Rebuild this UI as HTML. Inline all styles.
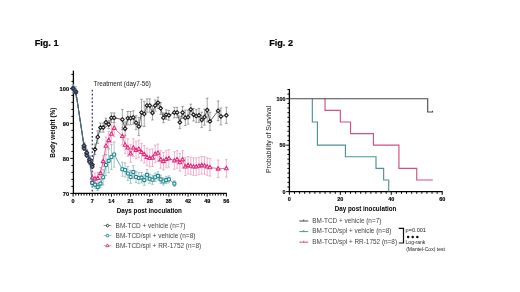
<!DOCTYPE html>
<html><head><meta charset="utf-8"><style>
html,body{margin:0;padding:0;background:#fff;}
body{width:520px;height:292px;overflow:hidden;}
svg{display:block;font-family:"Liberation Sans",sans-serif;}
</style></head><body>
<svg width="520" height="292" viewBox="0 0 520 292">
<defs><filter id="soft" x="0" y="0" width="100%" height="100%"><feGaussianBlur stdDeviation="0.3"/></filter></defs>
<rect width="520" height="292" fill="#fff"/>
<g filter="url(#soft)">
<text x="34.7" y="46.0" font-size="9.1" font-weight="bold" stroke="#000" stroke-width="0.2">Fig. 1</text>
<text x="269.2" y="46.1" font-size="9.1" font-weight="bold" stroke="#000" stroke-width="0.2">Fig. 2</text>
<path d="M70.2 193.4H73.4M71.4 186.4H73.4M71.4 179.4H73.4M71.4 172.4H73.4M71.4 165.4H73.4M70.2 158.4H73.4M71.4 151.4H73.4M71.4 144.4H73.4M71.4 137.4H73.4M71.4 130.4H73.4M70.2 123.4H73.4M71.4 116.4H73.4M71.4 109.4H73.4M71.4 102.4H73.4M71.4 95.4H73.4M70.2 88.4H73.4M71.4 81.4H73.4M71.4 74.4H73.4" stroke="#000" stroke-width="1.0" fill="none"/>
<path d="M73.4 70.6V194" stroke="#000" stroke-width="1.3" fill="none"/>
<text x="69.1" y="90.7" font-size="5.7" font-weight="bold" stroke="#000" stroke-width="0.15" text-anchor="end">100</text>
<text x="69.1" y="125.7" font-size="5.7" font-weight="bold" stroke="#000" stroke-width="0.15" text-anchor="end">90</text>
<text x="69.1" y="160.7" font-size="5.7" font-weight="bold" stroke="#000" stroke-width="0.15" text-anchor="end">80</text>
<text x="69.1" y="195.7" font-size="5.7" font-weight="bold" stroke="#000" stroke-width="0.15" text-anchor="end">70</text>
<path d="M73.1 193.4v3.2M75.84 193.4v2.2M78.57 193.4v2.2M81.31 193.4v2.2M84.05 193.4v2.2M86.78 193.4v2.2M89.52 193.4v2.2M92.26 193.4v3.2M95 193.4v2.2M97.73 193.4v2.2M100.47 193.4v2.2M103.21 193.4v2.2M105.94 193.4v2.2M108.68 193.4v2.2M111.42 193.4v3.2M114.16 193.4v2.2M116.89 193.4v2.2M119.63 193.4v2.2M122.37 193.4v2.2M125.1 193.4v2.2M127.84 193.4v2.2M130.58 193.4v3.2M133.31 193.4v2.2M136.05 193.4v2.2M138.79 193.4v2.2M141.52 193.4v2.2M144.26 193.4v2.2M147 193.4v2.2M149.74 193.4v3.2M152.47 193.4v2.2M155.21 193.4v2.2M157.95 193.4v2.2M160.68 193.4v2.2M163.42 193.4v2.2M166.16 193.4v2.2M168.89 193.4v3.2M171.63 193.4v2.2M174.37 193.4v2.2M177.11 193.4v2.2M179.84 193.4v2.2M182.58 193.4v2.2M185.32 193.4v2.2M188.05 193.4v3.2M190.79 193.4v2.2M193.53 193.4v2.2M196.26 193.4v2.2M199 193.4v2.2M201.74 193.4v2.2M204.48 193.4v2.2M207.21 193.4v3.2M209.95 193.4v2.2M212.69 193.4v2.2M215.42 193.4v2.2M218.16 193.4v2.2M220.9 193.4v2.2M223.63 193.4v2.2M226.37 193.4v3.2" stroke="#000" stroke-width="1.0" fill="none"/>
<path d="M72.75 193.4H226.87" stroke="#000" stroke-width="1.3" fill="none"/>
<text x="73.1" y="203.3" font-size="5.5" font-weight="bold" stroke="#000" stroke-width="0.15" text-anchor="middle">0</text>
<text x="92.26" y="203.3" font-size="5.5" font-weight="bold" stroke="#000" stroke-width="0.15" text-anchor="middle">7</text>
<text x="111.42" y="203.3" font-size="5.5" font-weight="bold" stroke="#000" stroke-width="0.15" text-anchor="middle">14</text>
<text x="130.58" y="203.3" font-size="5.5" font-weight="bold" stroke="#000" stroke-width="0.15" text-anchor="middle">21</text>
<text x="149.74" y="203.3" font-size="5.5" font-weight="bold" stroke="#000" stroke-width="0.15" text-anchor="middle">28</text>
<text x="168.89" y="203.3" font-size="5.5" font-weight="bold" stroke="#000" stroke-width="0.15" text-anchor="middle">35</text>
<text x="188.05" y="203.3" font-size="5.5" font-weight="bold" stroke="#000" stroke-width="0.15" text-anchor="middle">42</text>
<text x="207.21" y="203.3" font-size="5.5" font-weight="bold" stroke="#000" stroke-width="0.15" text-anchor="middle">49</text>
<text x="226.37" y="203.3" font-size="5.5" font-weight="bold" stroke="#000" stroke-width="0.15" text-anchor="middle">56</text>
<text x="149.4" y="212.6" font-size="6.27" font-weight="bold" text-anchor="middle">Days post inoculation</text>
<text transform="translate(54.5 132.6) rotate(-90)" font-size="6.45" font-weight="bold" text-anchor="middle">Body weight (%)</text>
<path d="M92.3 89.8V193.4" stroke="#38389a" stroke-width="1.3" stroke-dasharray="1.8 2.04" fill="none"/>
<text x="93.5" y="86.3" font-size="6.33" fill="#222">Treatment (day7-56)</text>
<path d="M73.1 84.9V91.9M71.8 84.9H74.4M71.8 91.9H74.4" stroke="#e899be" stroke-width="0.75" fill="none"/>
<path d="M75.84 88.4V95.4M74.54 88.4H77.14M74.54 95.4H77.14" stroke="#e899be" stroke-width="0.75" fill="none"/>
<path d="M84.05 142.65V149.65M82.75 142.65H85.35M82.75 149.65H85.35" stroke="#e899be" stroke-width="0.75" fill="none"/>
<path d="M86.78 149.3V156.3M85.48 149.3H88.08M85.48 156.3H88.08" stroke="#e899be" stroke-width="0.75" fill="none"/>
<path d="M89.52 155.6V164M88.22 155.6H90.82M88.22 164H90.82" stroke="#e899be" stroke-width="0.75" fill="none"/>
<path d="M92.26 172.05V183.25M90.96 172.05H93.56M90.96 183.25H93.56" stroke="#e899be" stroke-width="0.75" fill="none"/>
<path d="M95 173.1V184.3M93.7 173.1H96.3M93.7 184.3H96.3" stroke="#e899be" stroke-width="0.75" fill="none"/>
<path d="M97.73 172.4V183.6M96.43 172.4H99.03M96.43 183.6H99.03" stroke="#e899be" stroke-width="0.75" fill="none"/>
<path d="M100.47 167.5V178.7M99.17 167.5H101.77M99.17 178.7H101.77" stroke="#e899be" stroke-width="0.75" fill="none"/>
<path d="M103.21 155.6V166.8M101.91 155.6H104.51M101.91 166.8H104.51" stroke="#e899be" stroke-width="0.75" fill="none"/>
<path d="M105.94 137.05V154.55M104.64 137.05H107.24M104.64 154.55H107.24" stroke="#e899be" stroke-width="0.75" fill="none"/>
<path d="M108.68 131.45V148.95M107.38 131.45H109.98M107.38 148.95H109.98" stroke="#e899be" stroke-width="0.75" fill="none"/>
<path d="M111.42 125.15V142.65M110.12 125.15H112.72M110.12 142.65H112.72" stroke="#e899be" stroke-width="0.75" fill="none"/>
<path d="M114.16 119.2V136.7M112.86 119.2H115.45M112.86 136.7H115.45" stroke="#e899be" stroke-width="0.75" fill="none"/>
<path d="M122.37 127.25V144.75M121.07 127.25H123.67M121.07 144.75H123.67" stroke="#e899be" stroke-width="0.75" fill="none"/>
<path d="M125.1 136V153.5M123.8 136H126.4M123.8 153.5H126.4" stroke="#e899be" stroke-width="0.75" fill="none"/>
<path d="M127.84 138.8V156.3M126.54 138.8H129.14M126.54 156.3H129.14" stroke="#e899be" stroke-width="0.75" fill="none"/>
<path d="M130.58 144.75V162.25M129.28 144.75H131.88M129.28 162.25H131.88" stroke="#e899be" stroke-width="0.75" fill="none"/>
<path d="M133.31 138.8V156.3M132.01 138.8H134.61M132.01 156.3H134.61" stroke="#e899be" stroke-width="0.75" fill="none"/>
<path d="M136.05 141.25V158.75M134.75 141.25H137.35M134.75 158.75H137.35" stroke="#e899be" stroke-width="0.75" fill="none"/>
<path d="M138.79 140.2V157.7M137.49 140.2H140.09M137.49 157.7H140.09" stroke="#e899be" stroke-width="0.75" fill="none"/>
<path d="M141.52 143.35V160.85M140.22 143.35H142.82M140.22 160.85H142.82" stroke="#e899be" stroke-width="0.75" fill="none"/>
<path d="M144.26 145.45V162.95M142.96 145.45H145.56M142.96 162.95H145.56" stroke="#e899be" stroke-width="0.75" fill="none"/>
<path d="M147 148.25V165.75M145.7 148.25H148.3M145.7 165.75H148.3" stroke="#e899be" stroke-width="0.75" fill="none"/>
<path d="M149.74 149.3V166.8M148.44 149.3H151.04M148.44 166.8H151.04" stroke="#e899be" stroke-width="0.75" fill="none"/>
<path d="M152.47 148.95V166.45M151.17 148.95H153.77M151.17 166.45H153.77" stroke="#e899be" stroke-width="0.75" fill="none"/>
<path d="M155.21 145.1V162.6M153.91 145.1H156.51M153.91 162.6H156.51" stroke="#e899be" stroke-width="0.75" fill="none"/>
<path d="M157.95 144.05V161.55M156.65 144.05H159.25M156.65 161.55H159.25" stroke="#e899be" stroke-width="0.75" fill="none"/>
<path d="M160.68 150.7V168.2M159.38 150.7H161.98M159.38 168.2H161.98" stroke="#e899be" stroke-width="0.75" fill="none"/>
<path d="M163.42 152.45V169.95M162.12 152.45H164.72M162.12 169.95H164.72" stroke="#e899be" stroke-width="0.75" fill="none"/>
<path d="M166.16 150.35V167.85M164.86 150.35H167.46M164.86 167.85H167.46" stroke="#e899be" stroke-width="0.75" fill="none"/>
<path d="M168.89 149.65V167.15M167.59 149.65H170.19M167.59 167.15H170.19" stroke="#e899be" stroke-width="0.75" fill="none"/>
<path d="M174.37 151.75V169.25M173.07 151.75H175.67M173.07 169.25H175.67" stroke="#e899be" stroke-width="0.75" fill="none"/>
<path d="M177.11 150.7V168.2M175.81 150.7H178.41M175.81 168.2H178.41" stroke="#e899be" stroke-width="0.75" fill="none"/>
<path d="M179.84 153.5V171M178.54 153.5H181.14M178.54 171H181.14" stroke="#e899be" stroke-width="0.75" fill="none"/>
<path d="M182.58 150.7V168.2M181.28 150.7H183.88M181.28 168.2H183.88" stroke="#e899be" stroke-width="0.75" fill="none"/>
<path d="M185.32 157.88V175.38M184.02 157.88H186.62M184.02 175.38H186.62" stroke="#e899be" stroke-width="0.75" fill="none"/>
<path d="M188.05 156.48V173.98M186.75 156.48H189.35M186.75 173.98H189.35" stroke="#e899be" stroke-width="0.75" fill="none"/>
<path d="M190.79 157.18V174.68M189.49 157.18H192.09M189.49 174.68H192.09" stroke="#e899be" stroke-width="0.75" fill="none"/>
<path d="M193.53 157.88V175.38M192.23 157.88H194.83M192.23 175.38H194.83" stroke="#e899be" stroke-width="0.75" fill="none"/>
<path d="M196.26 157.88V175.38M194.96 157.88H197.56M194.96 175.38H197.56" stroke="#e899be" stroke-width="0.75" fill="none"/>
<path d="M199 157.18V174.68M197.7 157.18H200.3M197.7 174.68H200.3" stroke="#e899be" stroke-width="0.75" fill="none"/>
<path d="M201.74 156.48V173.98M200.44 156.48H203.04M200.44 173.98H203.04" stroke="#e899be" stroke-width="0.75" fill="none"/>
<path d="M204.48 156.82V174.32M203.18 156.82H205.78M203.18 174.32H205.78" stroke="#e899be" stroke-width="0.75" fill="none"/>
<path d="M207.21 157.88V175.38M205.91 157.88H208.51M205.91 175.38H208.51" stroke="#e899be" stroke-width="0.75" fill="none"/>
<path d="M209.95 158.57V176.07M208.65 158.57H211.25M208.65 176.07H211.25" stroke="#e899be" stroke-width="0.75" fill="none"/>
<path d="M218.16 159.98V177.48M216.86 159.98H219.46M216.86 177.48H219.46" stroke="#e899be" stroke-width="0.75" fill="none"/>
<path d="M226.37 159.62V177.12M225.07 159.62H227.67M225.07 177.12H227.67" stroke="#e899be" stroke-width="0.75" fill="none"/>
<path d="M73.1 84.2V92.6M71.8 84.2H74.4M71.8 92.6H74.4" stroke="#7aa9ab" stroke-width="0.65" fill="none"/>
<path d="M75.84 86.65V97.15M74.54 86.65H77.14M74.54 97.15H77.14" stroke="#7aa9ab" stroke-width="0.65" fill="none"/>
<path d="M84.05 143.35V150.35M82.75 143.35H85.35M82.75 150.35H85.35" stroke="#7aa9ab" stroke-width="0.65" fill="none"/>
<path d="M86.78 150V157M85.48 150H88.08M85.48 157H88.08" stroke="#7aa9ab" stroke-width="0.65" fill="none"/>
<path d="M89.52 156.3V164.7M88.22 156.3H90.82M88.22 164.7H90.82" stroke="#7aa9ab" stroke-width="0.65" fill="none"/>
<path d="M92.26 179.4V186.4M90.96 179.4H93.56M90.96 186.4H93.56" stroke="#7aa9ab" stroke-width="0.65" fill="none"/>
<path d="M95 181.15V188.15M93.7 181.15H96.3M93.7 188.15H96.3" stroke="#7aa9ab" stroke-width="0.65" fill="none"/>
<path d="M97.73 183.6V190.6M96.43 183.6H99.03M96.43 190.6H99.03" stroke="#7aa9ab" stroke-width="0.65" fill="none"/>
<path d="M100.47 179.4V187.8M99.17 179.4H101.77M99.17 187.8H101.77" stroke="#7aa9ab" stroke-width="0.65" fill="none"/>
<path d="M103.21 169.6V185M101.91 169.6H104.51M101.91 185H104.51" stroke="#7aa9ab" stroke-width="0.65" fill="none"/>
<path d="M105.94 154.55V175.55M104.64 154.55H107.24M104.64 175.55H107.24" stroke="#7aa9ab" stroke-width="0.65" fill="none"/>
<path d="M108.68 148.95V172.75M107.38 148.95H109.98M107.38 172.75H109.98" stroke="#7aa9ab" stroke-width="0.65" fill="none"/>
<path d="M111.42 144.4V169.6M110.12 144.4H112.72M110.12 169.6H112.72" stroke="#7aa9ab" stroke-width="0.65" fill="none"/>
<path d="M114.16 141.95V167.15M112.86 141.95H115.45M112.86 167.15H115.45" stroke="#7aa9ab" stroke-width="0.65" fill="none"/>
<path d="M122.37 162.25V176.25M121.07 162.25H123.67M121.07 176.25H123.67" stroke="#7aa9ab" stroke-width="0.65" fill="none"/>
<path d="M125.1 162.95V176.95M123.8 162.95H126.4M123.8 176.95H126.4" stroke="#7aa9ab" stroke-width="0.65" fill="none"/>
<path d="M127.84 166.45V180.45M126.54 166.45H129.14M126.54 180.45H129.14" stroke="#7aa9ab" stroke-width="0.65" fill="none"/>
<path d="M130.58 170.65V183.25M129.28 170.65H131.88M129.28 183.25H131.88" stroke="#7aa9ab" stroke-width="0.65" fill="none"/>
<path d="M133.31 165.75V178.35M132.01 165.75H134.61M132.01 178.35H134.61" stroke="#7aa9ab" stroke-width="0.65" fill="none"/>
<path d="M136.05 171.35V182.55M134.75 171.35H137.35M134.75 182.55H137.35" stroke="#7aa9ab" stroke-width="0.65" fill="none"/>
<path d="M138.79 172.4V183.6M137.49 172.4H140.09M137.49 183.6H140.09" stroke="#7aa9ab" stroke-width="0.65" fill="none"/>
<path d="M141.52 172.4V182.9M140.22 172.4H142.82M140.22 182.9H142.82" stroke="#7aa9ab" stroke-width="0.65" fill="none"/>
<path d="M144.26 174.85V185.35M142.96 174.85H145.56M142.96 185.35H145.56" stroke="#7aa9ab" stroke-width="0.65" fill="none"/>
<path d="M147 169.6V180.1M145.7 169.6H148.3M145.7 180.1H148.3" stroke="#7aa9ab" stroke-width="0.65" fill="none"/>
<path d="M149.74 174.15V183.25M148.44 174.15H151.04M148.44 183.25H151.04" stroke="#7aa9ab" stroke-width="0.65" fill="none"/>
<path d="M152.47 175.2V184.3M151.17 175.2H153.77M151.17 184.3H153.77" stroke="#7aa9ab" stroke-width="0.65" fill="none"/>
<path d="M155.21 173.1V181.5M153.91 173.1H156.51M153.91 181.5H156.51" stroke="#7aa9ab" stroke-width="0.65" fill="none"/>
<path d="M157.95 171.7V180.1M156.65 171.7H159.25M156.65 180.1H159.25" stroke="#7aa9ab" stroke-width="0.65" fill="none"/>
<path d="M160.68 175.2V183.6M159.38 175.2H161.98M159.38 183.6H161.98" stroke="#7aa9ab" stroke-width="0.65" fill="none"/>
<path d="M163.42 178V185M162.12 178H164.72M162.12 185H164.72" stroke="#7aa9ab" stroke-width="0.65" fill="none"/>
<path d="M166.16 176.6V183.6M164.86 176.6H167.46M164.86 183.6H167.46" stroke="#7aa9ab" stroke-width="0.65" fill="none"/>
<path d="M168.89 175.9V182.9M167.59 175.9H170.19M167.59 182.9H170.19" stroke="#7aa9ab" stroke-width="0.65" fill="none"/>
<path d="M174.37 180.8V186.4M173.07 180.8H175.67M173.07 186.4H175.67" stroke="#7aa9ab" stroke-width="0.65" fill="none"/>
<path d="M73.1 86.65V90.15M71.8 86.65H74.4M71.8 90.15H74.4" stroke="#6a6a6a" stroke-width="0.6" fill="none"/>
<path d="M75.84 89.8V94M74.54 89.8H77.14M74.54 94H77.14" stroke="#6a6a6a" stroke-width="0.6" fill="none"/>
<path d="M84.05 143V148.6M82.75 143H85.35M82.75 148.6H85.35" stroke="#6a6a6a" stroke-width="0.6" fill="none"/>
<path d="M86.78 150V155.6M85.48 150H88.08M85.48 155.6H88.08" stroke="#6a6a6a" stroke-width="0.6" fill="none"/>
<path d="M89.52 156.3V162.6M88.22 156.3H90.82M88.22 162.6H90.82" stroke="#6a6a6a" stroke-width="0.6" fill="none"/>
<path d="M92.26 161.2V168.2M90.96 161.2H93.56M90.96 168.2H93.56" stroke="#6a6a6a" stroke-width="0.6" fill="none"/>
<path d="M95 144.05V154.55M93.7 144.05H96.3M93.7 154.55H96.3" stroke="#6a6a6a" stroke-width="0.6" fill="none"/>
<path d="M97.73 130.75V143.35M96.43 130.75H99.03M96.43 143.35H99.03" stroke="#6a6a6a" stroke-width="0.6" fill="none"/>
<path d="M100.47 123.05V132.15M99.17 123.05H101.77M99.17 132.15H101.77" stroke="#6a6a6a" stroke-width="0.6" fill="none"/>
<path d="M103.21 123.05V132.15M101.91 123.05H104.51M101.91 132.15H104.51" stroke="#6a6a6a" stroke-width="0.6" fill="none"/>
<path d="M105.94 118.15V126.55M104.64 118.15H107.24M104.64 126.55H107.24" stroke="#6a6a6a" stroke-width="0.6" fill="none"/>
<path d="M108.68 120.25V128.65M107.38 120.25H109.98M107.38 128.65H109.98" stroke="#6a6a6a" stroke-width="0.6" fill="none"/>
<path d="M111.42 112.9V122.7M110.12 112.9H112.72M110.12 122.7H112.72" stroke="#6a6a6a" stroke-width="0.6" fill="none"/>
<path d="M114.16 112.9V122.7M112.86 112.9H115.45M112.86 122.7H115.45" stroke="#6a6a6a" stroke-width="0.6" fill="none"/>
<path d="M122.37 109.4V129.7M121.07 109.4H123.67M121.07 129.7H123.67" stroke="#6a6a6a" stroke-width="0.6" fill="none"/>
<path d="M125.1 122V135.3M123.8 122H126.4M123.8 135.3H126.4" stroke="#6a6a6a" stroke-width="0.6" fill="none"/>
<path d="M127.84 111.5V124.8M126.54 111.5H129.14M126.54 124.8H129.14" stroke="#6a6a6a" stroke-width="0.6" fill="none"/>
<path d="M130.58 111.5V124.8M129.28 111.5H131.88M129.28 124.8H131.88" stroke="#6a6a6a" stroke-width="0.6" fill="none"/>
<path d="M133.31 110.8V124.1M132.01 110.8H134.61M132.01 124.1H134.61" stroke="#6a6a6a" stroke-width="0.6" fill="none"/>
<path d="M136.05 115.7V129.7M134.75 115.7H137.35M134.75 129.7H137.35" stroke="#6a6a6a" stroke-width="0.6" fill="none"/>
<path d="M138.79 117.45V135.65M137.49 117.45H140.09M137.49 135.65H140.09" stroke="#6a6a6a" stroke-width="0.6" fill="none"/>
<path d="M141.52 99.25V125.85M140.22 99.25H142.82M140.22 125.85H142.82" stroke="#6a6a6a" stroke-width="0.6" fill="none"/>
<path d="M144.26 101.35V126.55M142.96 101.35H145.56M142.96 126.55H145.56" stroke="#6a6a6a" stroke-width="0.6" fill="none"/>
<path d="M147 98.9V112.2M145.7 98.9H148.3M145.7 112.2H148.3" stroke="#6a6a6a" stroke-width="0.6" fill="none"/>
<path d="M149.74 98.9V112.2M148.44 98.9H151.04M148.44 112.2H151.04" stroke="#6a6a6a" stroke-width="0.6" fill="none"/>
<path d="M152.47 105.9V119.9M151.17 105.9H153.77M151.17 119.9H153.77" stroke="#6a6a6a" stroke-width="0.6" fill="none"/>
<path d="M155.21 99.95V111.15M153.91 99.95H156.51M153.91 111.15H156.51" stroke="#6a6a6a" stroke-width="0.6" fill="none"/>
<path d="M157.95 97.15V108.35M156.65 97.15H159.25M156.65 108.35H159.25" stroke="#6a6a6a" stroke-width="0.6" fill="none"/>
<path d="M160.68 102.4V114.3M159.38 102.4H161.98M159.38 114.3H161.98" stroke="#6a6a6a" stroke-width="0.6" fill="none"/>
<path d="M163.42 112.9V122.7M162.12 112.9H164.72M162.12 122.7H164.72" stroke="#6a6a6a" stroke-width="0.6" fill="none"/>
<path d="M166.16 109.75V119.55M164.86 109.75H167.46M164.86 119.55H167.46" stroke="#6a6a6a" stroke-width="0.6" fill="none"/>
<path d="M168.89 110.45V120.25M167.59 110.45H170.19M167.59 120.25H170.19" stroke="#6a6a6a" stroke-width="0.6" fill="none"/>
<path d="M174.37 107.3V117.8M173.07 107.3H175.67M173.07 117.8H175.67" stroke="#6a6a6a" stroke-width="0.6" fill="none"/>
<path d="M177.11 107.3V117.8M175.81 107.3H178.41M175.81 117.8H178.41" stroke="#6a6a6a" stroke-width="0.6" fill="none"/>
<path d="M179.84 116.05V128.65M178.54 116.05H181.14M178.54 128.65H181.14" stroke="#6a6a6a" stroke-width="0.6" fill="none"/>
<path d="M182.58 106.6V118.5M181.28 106.6H183.88M181.28 118.5H183.88" stroke="#6a6a6a" stroke-width="0.6" fill="none"/>
<path d="M185.32 110.1V125.5M184.02 110.1H186.62M184.02 125.5H186.62" stroke="#6a6a6a" stroke-width="0.6" fill="none"/>
<path d="M188.05 110.1V124.1M186.75 110.1H189.35M186.75 124.1H189.35" stroke="#6a6a6a" stroke-width="0.6" fill="none"/>
<path d="M190.79 104.15V114.65M189.49 104.15H192.09M189.49 114.65H192.09" stroke="#6a6a6a" stroke-width="0.6" fill="none"/>
<path d="M193.53 108.35V120.95M192.23 108.35H194.83M192.23 120.95H194.83" stroke="#6a6a6a" stroke-width="0.6" fill="none"/>
<path d="M196.26 109.75V122.35M194.96 109.75H197.56M194.96 122.35H197.56" stroke="#6a6a6a" stroke-width="0.6" fill="none"/>
<path d="M199 108.35V122.35M197.7 108.35H200.3M197.7 122.35H200.3" stroke="#6a6a6a" stroke-width="0.6" fill="none"/>
<path d="M201.74 112.2V127.6M200.44 112.2H203.04M200.44 127.6H203.04" stroke="#6a6a6a" stroke-width="0.6" fill="none"/>
<path d="M204.48 109.05V125.15M203.18 109.05H205.78M203.18 125.15H205.78" stroke="#6a6a6a" stroke-width="0.6" fill="none"/>
<path d="M207.21 98.2V122M205.91 98.2H208.51M205.91 122H208.51" stroke="#6a6a6a" stroke-width="0.6" fill="none"/>
<path d="M209.95 112.2V130.4M208.65 112.2H211.25M208.65 130.4H211.25" stroke="#6a6a6a" stroke-width="0.6" fill="none"/>
<path d="M218.16 101V120.6M216.86 101H219.46M216.86 120.6H219.46" stroke="#6a6a6a" stroke-width="0.6" fill="none"/>
<path d="M220.9 108V124.8M219.6 108H222.2M219.6 124.8H222.2" stroke="#6a6a6a" stroke-width="0.6" fill="none"/>
<path d="M226.37 107.3V123.4M225.07 107.3H227.67M225.07 123.4H227.67" stroke="#6a6a6a" stroke-width="0.6" fill="none"/>
<polyline points="73.1,88.4 75.84,91.9 84.05,146.15 86.78,152.8 89.52,159.8 92.26,177.65 95,178.7 97.73,178 100.47,173.1 103.21,161.2 105.94,145.8 108.68,140.2 111.42,133.9 114.16,127.95 122.37,136 125.1,144.75 127.84,147.55 130.58,153.5 133.31,147.55 136.05,150 138.79,148.95 141.52,152.1 144.26,154.2 147,157 149.74,158.05 152.47,157.7 155.21,153.85 157.95,152.8 160.68,159.45 163.42,161.2 166.16,159.1 168.89,158.4 174.37,160.5 177.11,159.45 179.84,162.25 182.58,159.45 185.32,166.62 188.05,165.23 190.79,165.93 193.53,166.62 196.26,166.62 199,165.93 201.74,165.23 204.48,165.57 207.21,166.62 209.95,167.32 218.16,168.73 226.37,168.38" stroke="#de2f7e" stroke-width="0.7" fill="none"/>
<path d="M73.1 86.3L75.1 89.8L71.1 89.8Z" fill="#fbd3e4" stroke="#de2f7e" stroke-width="1.05" stroke-linejoin="round"/>
<path d="M75.84 89.8L77.84 93.3L73.84 93.3Z" fill="#fbd3e4" stroke="#de2f7e" stroke-width="1.05" stroke-linejoin="round"/>
<path d="M84.05 144.05L86.05 147.55L82.05 147.55Z" fill="#fbd3e4" stroke="#de2f7e" stroke-width="1.05" stroke-linejoin="round"/>
<path d="M86.78 150.7L88.78 154.2L84.78 154.2Z" fill="#fbd3e4" stroke="#de2f7e" stroke-width="1.05" stroke-linejoin="round"/>
<path d="M89.52 157.7L91.52 161.2L87.52 161.2Z" fill="#fbd3e4" stroke="#de2f7e" stroke-width="1.05" stroke-linejoin="round"/>
<path d="M92.26 175.55L94.26 179.05L90.26 179.05Z" fill="#fbd3e4" stroke="#de2f7e" stroke-width="1.05" stroke-linejoin="round"/>
<path d="M95 176.6L97 180.1L93 180.1Z" fill="#fbd3e4" stroke="#de2f7e" stroke-width="1.05" stroke-linejoin="round"/>
<path d="M97.73 175.9L99.73 179.4L95.73 179.4Z" fill="#fbd3e4" stroke="#de2f7e" stroke-width="1.05" stroke-linejoin="round"/>
<path d="M100.47 171L102.47 174.5L98.47 174.5Z" fill="#fbd3e4" stroke="#de2f7e" stroke-width="1.05" stroke-linejoin="round"/>
<path d="M103.21 159.1L105.21 162.6L101.21 162.6Z" fill="#fbd3e4" stroke="#de2f7e" stroke-width="1.05" stroke-linejoin="round"/>
<path d="M105.94 143.7L107.94 147.2L103.94 147.2Z" fill="#fbd3e4" stroke="#de2f7e" stroke-width="1.05" stroke-linejoin="round"/>
<path d="M108.68 138.1L110.68 141.6L106.68 141.6Z" fill="#fbd3e4" stroke="#de2f7e" stroke-width="1.05" stroke-linejoin="round"/>
<path d="M111.42 131.8L113.42 135.3L109.42 135.3Z" fill="#fbd3e4" stroke="#de2f7e" stroke-width="1.05" stroke-linejoin="round"/>
<path d="M114.16 125.85L116.16 129.35L112.16 129.35Z" fill="#fbd3e4" stroke="#de2f7e" stroke-width="1.05" stroke-linejoin="round"/>
<path d="M122.37 133.9L124.37 137.4L120.37 137.4Z" fill="#fbd3e4" stroke="#de2f7e" stroke-width="1.05" stroke-linejoin="round"/>
<path d="M125.1 142.65L127.1 146.15L123.1 146.15Z" fill="#fbd3e4" stroke="#de2f7e" stroke-width="1.05" stroke-linejoin="round"/>
<path d="M127.84 145.45L129.84 148.95L125.84 148.95Z" fill="#fbd3e4" stroke="#de2f7e" stroke-width="1.05" stroke-linejoin="round"/>
<path d="M130.58 151.4L132.58 154.9L128.58 154.9Z" fill="#fbd3e4" stroke="#de2f7e" stroke-width="1.05" stroke-linejoin="round"/>
<path d="M133.31 145.45L135.31 148.95L131.31 148.95Z" fill="#fbd3e4" stroke="#de2f7e" stroke-width="1.05" stroke-linejoin="round"/>
<path d="M136.05 147.9L138.05 151.4L134.05 151.4Z" fill="#fbd3e4" stroke="#de2f7e" stroke-width="1.05" stroke-linejoin="round"/>
<path d="M138.79 146.85L140.79 150.35L136.79 150.35Z" fill="#fbd3e4" stroke="#de2f7e" stroke-width="1.05" stroke-linejoin="round"/>
<path d="M141.52 150L143.52 153.5L139.52 153.5Z" fill="#fbd3e4" stroke="#de2f7e" stroke-width="1.05" stroke-linejoin="round"/>
<path d="M144.26 152.1L146.26 155.6L142.26 155.6Z" fill="#fbd3e4" stroke="#de2f7e" stroke-width="1.05" stroke-linejoin="round"/>
<path d="M147 154.9L149 158.4L145 158.4Z" fill="#fbd3e4" stroke="#de2f7e" stroke-width="1.05" stroke-linejoin="round"/>
<path d="M149.74 155.95L151.74 159.45L147.74 159.45Z" fill="#fbd3e4" stroke="#de2f7e" stroke-width="1.05" stroke-linejoin="round"/>
<path d="M152.47 155.6L154.47 159.1L150.47 159.1Z" fill="#fbd3e4" stroke="#de2f7e" stroke-width="1.05" stroke-linejoin="round"/>
<path d="M155.21 151.75L157.21 155.25L153.21 155.25Z" fill="#fbd3e4" stroke="#de2f7e" stroke-width="1.05" stroke-linejoin="round"/>
<path d="M157.95 150.7L159.95 154.2L155.95 154.2Z" fill="#fbd3e4" stroke="#de2f7e" stroke-width="1.05" stroke-linejoin="round"/>
<path d="M160.68 157.35L162.68 160.85L158.68 160.85Z" fill="#fbd3e4" stroke="#de2f7e" stroke-width="1.05" stroke-linejoin="round"/>
<path d="M163.42 159.1L165.42 162.6L161.42 162.6Z" fill="#fbd3e4" stroke="#de2f7e" stroke-width="1.05" stroke-linejoin="round"/>
<path d="M166.16 157L168.16 160.5L164.16 160.5Z" fill="#fbd3e4" stroke="#de2f7e" stroke-width="1.05" stroke-linejoin="round"/>
<path d="M168.89 156.3L170.89 159.8L166.89 159.8Z" fill="#fbd3e4" stroke="#de2f7e" stroke-width="1.05" stroke-linejoin="round"/>
<path d="M174.37 158.4L176.37 161.9L172.37 161.9Z" fill="#fbd3e4" stroke="#de2f7e" stroke-width="1.05" stroke-linejoin="round"/>
<path d="M177.11 157.35L179.11 160.85L175.11 160.85Z" fill="#fbd3e4" stroke="#de2f7e" stroke-width="1.05" stroke-linejoin="round"/>
<path d="M179.84 160.15L181.84 163.65L177.84 163.65Z" fill="#fbd3e4" stroke="#de2f7e" stroke-width="1.05" stroke-linejoin="round"/>
<path d="M182.58 157.35L184.58 160.85L180.58 160.85Z" fill="#fbd3e4" stroke="#de2f7e" stroke-width="1.05" stroke-linejoin="round"/>
<path d="M185.32 164.53L187.32 168.03L183.32 168.03Z" fill="#fbd3e4" stroke="#de2f7e" stroke-width="1.05" stroke-linejoin="round"/>
<path d="M188.05 163.13L190.05 166.63L186.05 166.63Z" fill="#fbd3e4" stroke="#de2f7e" stroke-width="1.05" stroke-linejoin="round"/>
<path d="M190.79 163.83L192.79 167.33L188.79 167.33Z" fill="#fbd3e4" stroke="#de2f7e" stroke-width="1.05" stroke-linejoin="round"/>
<path d="M193.53 164.53L195.53 168.03L191.53 168.03Z" fill="#fbd3e4" stroke="#de2f7e" stroke-width="1.05" stroke-linejoin="round"/>
<path d="M196.26 164.53L198.26 168.03L194.26 168.03Z" fill="#fbd3e4" stroke="#de2f7e" stroke-width="1.05" stroke-linejoin="round"/>
<path d="M199 163.83L201 167.33L197 167.33Z" fill="#fbd3e4" stroke="#de2f7e" stroke-width="1.05" stroke-linejoin="round"/>
<path d="M201.74 163.13L203.74 166.63L199.74 166.63Z" fill="#fbd3e4" stroke="#de2f7e" stroke-width="1.05" stroke-linejoin="round"/>
<path d="M204.48 163.47L206.48 166.97L202.48 166.97Z" fill="#fbd3e4" stroke="#de2f7e" stroke-width="1.05" stroke-linejoin="round"/>
<path d="M207.21 164.53L209.21 168.03L205.21 168.03Z" fill="#fbd3e4" stroke="#de2f7e" stroke-width="1.05" stroke-linejoin="round"/>
<path d="M209.95 165.22L211.95 168.72L207.95 168.72Z" fill="#fbd3e4" stroke="#de2f7e" stroke-width="1.05" stroke-linejoin="round"/>
<path d="M218.16 166.63L220.16 170.13L216.16 170.13Z" fill="#fbd3e4" stroke="#de2f7e" stroke-width="1.05" stroke-linejoin="round"/>
<path d="M226.37 166.28L228.37 169.78L224.37 169.78Z" fill="#fbd3e4" stroke="#de2f7e" stroke-width="1.05" stroke-linejoin="round"/>
<polyline points="73.1,88.4 75.84,91.9 84.05,145.8 86.78,152.8 89.52,159.45 92.26,164.7 95,149.3 97.73,137.05 100.47,127.6 103.21,127.6 105.94,122.35 108.68,124.45 111.42,117.8 114.16,117.8 122.37,119.55 125.1,128.65 127.84,118.15 130.58,118.15 133.31,117.45 136.05,122.7 138.79,126.55 141.52,112.55 144.26,113.95 147,105.55 149.74,105.55 152.47,112.9 155.21,105.55 157.95,102.75 160.68,108.35 163.42,117.8 166.16,114.65 168.89,115.35 174.37,112.55 177.11,112.55 179.84,122.35 182.58,112.55 185.32,117.8 188.05,117.1 190.79,109.4 193.53,114.65 196.26,116.05 199,115.35 201.74,119.9 204.48,117.1 207.21,110.1 209.95,121.3 218.16,110.8 220.9,116.4 226.37,115.35" stroke="#1e1e1e" stroke-width="0.7" fill="none"/>
<path d="M73.1 86.55L74.95 88.4L73.1 90.25L71.25 88.4Z" fill="#fff" stroke="#1e1e1e" stroke-width="1.2" stroke-linejoin="round"/>
<path d="M75.84 90.05L77.69 91.9L75.84 93.75L73.99 91.9Z" fill="#fff" stroke="#1e1e1e" stroke-width="1.2" stroke-linejoin="round"/>
<path d="M84.05 143.95L85.9 145.8L84.05 147.65L82.2 145.8Z" fill="#fff" stroke="#1e1e1e" stroke-width="1.2" stroke-linejoin="round"/>
<path d="M86.78 150.95L88.63 152.8L86.78 154.65L84.94 152.8Z" fill="#fff" stroke="#1e1e1e" stroke-width="1.2" stroke-linejoin="round"/>
<path d="M89.52 157.6L91.37 159.45L89.52 161.3L87.67 159.45Z" fill="#fff" stroke="#1e1e1e" stroke-width="1.2" stroke-linejoin="round"/>
<path d="M92.26 162.85L94.11 164.7L92.26 166.55L90.41 164.7Z" fill="#fff" stroke="#1e1e1e" stroke-width="1.2" stroke-linejoin="round"/>
<path d="M95 147.45L96.85 149.3L95 151.15L93.15 149.3Z" fill="#fff" stroke="#1e1e1e" stroke-width="1.2" stroke-linejoin="round"/>
<path d="M97.73 135.2L99.58 137.05L97.73 138.9L95.88 137.05Z" fill="#fff" stroke="#1e1e1e" stroke-width="1.2" stroke-linejoin="round"/>
<path d="M100.47 125.75L102.32 127.6L100.47 129.45L98.62 127.6Z" fill="#fff" stroke="#1e1e1e" stroke-width="1.2" stroke-linejoin="round"/>
<path d="M103.21 125.75L105.06 127.6L103.21 129.45L101.36 127.6Z" fill="#fff" stroke="#1e1e1e" stroke-width="1.2" stroke-linejoin="round"/>
<path d="M105.94 120.5L107.79 122.35L105.94 124.2L104.09 122.35Z" fill="#fff" stroke="#1e1e1e" stroke-width="1.2" stroke-linejoin="round"/>
<path d="M108.68 122.6L110.53 124.45L108.68 126.3L106.83 124.45Z" fill="#fff" stroke="#1e1e1e" stroke-width="1.2" stroke-linejoin="round"/>
<path d="M111.42 115.95L113.27 117.8L111.42 119.65L109.57 117.8Z" fill="#fff" stroke="#1e1e1e" stroke-width="1.2" stroke-linejoin="round"/>
<path d="M114.16 115.95L116 117.8L114.16 119.65L112.31 117.8Z" fill="#fff" stroke="#1e1e1e" stroke-width="1.2" stroke-linejoin="round"/>
<path d="M122.37 117.7L124.22 119.55L122.37 121.4L120.52 119.55Z" fill="#fff" stroke="#1e1e1e" stroke-width="1.2" stroke-linejoin="round"/>
<path d="M125.1 126.8L126.95 128.65L125.1 130.5L123.25 128.65Z" fill="#fff" stroke="#1e1e1e" stroke-width="1.2" stroke-linejoin="round"/>
<path d="M127.84 116.3L129.69 118.15L127.84 120L125.99 118.15Z" fill="#fff" stroke="#1e1e1e" stroke-width="1.2" stroke-linejoin="round"/>
<path d="M130.58 116.3L132.43 118.15L130.58 120L128.73 118.15Z" fill="#fff" stroke="#1e1e1e" stroke-width="1.2" stroke-linejoin="round"/>
<path d="M133.31 115.6L135.16 117.45L133.31 119.3L131.46 117.45Z" fill="#fff" stroke="#1e1e1e" stroke-width="1.2" stroke-linejoin="round"/>
<path d="M136.05 120.85L137.9 122.7L136.05 124.55L134.2 122.7Z" fill="#fff" stroke="#1e1e1e" stroke-width="1.2" stroke-linejoin="round"/>
<path d="M138.79 124.7L140.64 126.55L138.79 128.4L136.94 126.55Z" fill="#fff" stroke="#1e1e1e" stroke-width="1.2" stroke-linejoin="round"/>
<path d="M141.52 110.7L143.37 112.55L141.52 114.4L139.67 112.55Z" fill="#fff" stroke="#1e1e1e" stroke-width="1.2" stroke-linejoin="round"/>
<path d="M144.26 112.1L146.11 113.95L144.26 115.8L142.41 113.95Z" fill="#fff" stroke="#1e1e1e" stroke-width="1.2" stroke-linejoin="round"/>
<path d="M147 103.7L148.85 105.55L147 107.4L145.15 105.55Z" fill="#fff" stroke="#1e1e1e" stroke-width="1.2" stroke-linejoin="round"/>
<path d="M149.74 103.7L151.59 105.55L149.74 107.4L147.89 105.55Z" fill="#fff" stroke="#1e1e1e" stroke-width="1.2" stroke-linejoin="round"/>
<path d="M152.47 111.05L154.32 112.9L152.47 114.75L150.62 112.9Z" fill="#fff" stroke="#1e1e1e" stroke-width="1.2" stroke-linejoin="round"/>
<path d="M155.21 103.7L157.06 105.55L155.21 107.4L153.36 105.55Z" fill="#fff" stroke="#1e1e1e" stroke-width="1.2" stroke-linejoin="round"/>
<path d="M157.95 100.9L159.8 102.75L157.95 104.6L156.1 102.75Z" fill="#fff" stroke="#1e1e1e" stroke-width="1.2" stroke-linejoin="round"/>
<path d="M160.68 106.5L162.53 108.35L160.68 110.2L158.83 108.35Z" fill="#fff" stroke="#1e1e1e" stroke-width="1.2" stroke-linejoin="round"/>
<path d="M163.42 115.95L165.27 117.8L163.42 119.65L161.57 117.8Z" fill="#fff" stroke="#1e1e1e" stroke-width="1.2" stroke-linejoin="round"/>
<path d="M166.16 112.8L168.01 114.65L166.16 116.5L164.31 114.65Z" fill="#fff" stroke="#1e1e1e" stroke-width="1.2" stroke-linejoin="round"/>
<path d="M168.89 113.5L170.74 115.35L168.89 117.2L167.04 115.35Z" fill="#fff" stroke="#1e1e1e" stroke-width="1.2" stroke-linejoin="round"/>
<path d="M174.37 110.7L176.22 112.55L174.37 114.4L172.52 112.55Z" fill="#fff" stroke="#1e1e1e" stroke-width="1.2" stroke-linejoin="round"/>
<path d="M177.11 110.7L178.96 112.55L177.11 114.4L175.26 112.55Z" fill="#fff" stroke="#1e1e1e" stroke-width="1.2" stroke-linejoin="round"/>
<path d="M179.84 120.5L181.69 122.35L179.84 124.2L177.99 122.35Z" fill="#fff" stroke="#1e1e1e" stroke-width="1.2" stroke-linejoin="round"/>
<path d="M182.58 110.7L184.43 112.55L182.58 114.4L180.73 112.55Z" fill="#fff" stroke="#1e1e1e" stroke-width="1.2" stroke-linejoin="round"/>
<path d="M185.32 115.95L187.17 117.8L185.32 119.65L183.47 117.8Z" fill="#fff" stroke="#1e1e1e" stroke-width="1.2" stroke-linejoin="round"/>
<path d="M188.05 115.25L189.9 117.1L188.05 118.95L186.2 117.1Z" fill="#fff" stroke="#1e1e1e" stroke-width="1.2" stroke-linejoin="round"/>
<path d="M190.79 107.55L192.64 109.4L190.79 111.25L188.94 109.4Z" fill="#fff" stroke="#1e1e1e" stroke-width="1.2" stroke-linejoin="round"/>
<path d="M193.53 112.8L195.38 114.65L193.53 116.5L191.68 114.65Z" fill="#fff" stroke="#1e1e1e" stroke-width="1.2" stroke-linejoin="round"/>
<path d="M196.26 114.2L198.11 116.05L196.26 117.9L194.41 116.05Z" fill="#fff" stroke="#1e1e1e" stroke-width="1.2" stroke-linejoin="round"/>
<path d="M199 113.5L200.85 115.35L199 117.2L197.15 115.35Z" fill="#fff" stroke="#1e1e1e" stroke-width="1.2" stroke-linejoin="round"/>
<path d="M201.74 118.05L203.59 119.9L201.74 121.75L199.89 119.9Z" fill="#fff" stroke="#1e1e1e" stroke-width="1.2" stroke-linejoin="round"/>
<path d="M204.48 115.25L206.33 117.1L204.48 118.95L202.63 117.1Z" fill="#fff" stroke="#1e1e1e" stroke-width="1.2" stroke-linejoin="round"/>
<path d="M207.21 108.25L209.06 110.1L207.21 111.95L205.36 110.1Z" fill="#fff" stroke="#1e1e1e" stroke-width="1.2" stroke-linejoin="round"/>
<path d="M209.95 119.45L211.8 121.3L209.95 123.15L208.1 121.3Z" fill="#fff" stroke="#1e1e1e" stroke-width="1.2" stroke-linejoin="round"/>
<path d="M218.16 108.95L220.01 110.8L218.16 112.65L216.31 110.8Z" fill="#fff" stroke="#1e1e1e" stroke-width="1.2" stroke-linejoin="round"/>
<path d="M220.9 114.55L222.75 116.4L220.9 118.25L219.05 116.4Z" fill="#fff" stroke="#1e1e1e" stroke-width="1.2" stroke-linejoin="round"/>
<path d="M226.37 113.5L228.22 115.35L226.37 117.2L224.52 115.35Z" fill="#fff" stroke="#1e1e1e" stroke-width="1.2" stroke-linejoin="round"/>
<polyline points="73.1,88.4 75.84,91.9 84.05,146.85 86.78,153.5 89.52,160.5 92.26,182.9 95,184.65 97.73,187.1 100.47,183.6 103.21,177.3 105.94,165.05 108.68,160.85 111.42,157 114.16,154.55 122.37,169.25 125.1,169.95 127.84,173.45 130.58,176.95 133.31,172.05 136.05,176.95 138.79,178 141.52,177.65 144.26,180.1 147,174.85 149.74,178.7 152.47,179.75 155.21,177.3 157.95,175.9 160.68,179.4 163.42,181.5 166.16,180.1 168.89,179.4 174.37,183.6" stroke="#1a8a90" stroke-width="0.7" fill="none"/>
<rect x="71.6" y="86.9" width="3" height="3" rx="0.6" fill="#fff" stroke="#1a8a90" stroke-width="1.1"/>
<rect x="74.34" y="90.4" width="3" height="3" rx="0.6" fill="#fff" stroke="#1a8a90" stroke-width="1.1"/>
<rect x="82.55" y="145.35" width="3" height="3" rx="0.6" fill="#fff" stroke="#1a8a90" stroke-width="1.1"/>
<rect x="85.28" y="152" width="3" height="3" rx="0.6" fill="#fff" stroke="#1a8a90" stroke-width="1.1"/>
<rect x="88.02" y="159" width="3" height="3" rx="0.6" fill="#fff" stroke="#1a8a90" stroke-width="1.1"/>
<rect x="90.76" y="181.4" width="3" height="3" rx="0.6" fill="#fff" stroke="#1a8a90" stroke-width="1.1"/>
<rect x="93.5" y="183.15" width="3" height="3" rx="0.6" fill="#fff" stroke="#1a8a90" stroke-width="1.1"/>
<rect x="96.23" y="185.6" width="3" height="3" rx="0.6" fill="#fff" stroke="#1a8a90" stroke-width="1.1"/>
<rect x="98.97" y="182.1" width="3" height="3" rx="0.6" fill="#fff" stroke="#1a8a90" stroke-width="1.1"/>
<rect x="101.71" y="175.8" width="3" height="3" rx="0.6" fill="#fff" stroke="#1a8a90" stroke-width="1.1"/>
<rect x="104.44" y="163.55" width="3" height="3" rx="0.6" fill="#fff" stroke="#1a8a90" stroke-width="1.1"/>
<rect x="107.18" y="159.35" width="3" height="3" rx="0.6" fill="#fff" stroke="#1a8a90" stroke-width="1.1"/>
<rect x="109.92" y="155.5" width="3" height="3" rx="0.6" fill="#fff" stroke="#1a8a90" stroke-width="1.1"/>
<rect x="112.66" y="153.05" width="3" height="3" rx="0.6" fill="#fff" stroke="#1a8a90" stroke-width="1.1"/>
<rect x="120.87" y="167.75" width="3" height="3" rx="0.6" fill="#fff" stroke="#1a8a90" stroke-width="1.1"/>
<rect x="123.6" y="168.45" width="3" height="3" rx="0.6" fill="#fff" stroke="#1a8a90" stroke-width="1.1"/>
<rect x="126.34" y="171.95" width="3" height="3" rx="0.6" fill="#fff" stroke="#1a8a90" stroke-width="1.1"/>
<rect x="129.08" y="175.45" width="3" height="3" rx="0.6" fill="#fff" stroke="#1a8a90" stroke-width="1.1"/>
<rect x="131.81" y="170.55" width="3" height="3" rx="0.6" fill="#fff" stroke="#1a8a90" stroke-width="1.1"/>
<rect x="134.55" y="175.45" width="3" height="3" rx="0.6" fill="#fff" stroke="#1a8a90" stroke-width="1.1"/>
<rect x="137.29" y="176.5" width="3" height="3" rx="0.6" fill="#fff" stroke="#1a8a90" stroke-width="1.1"/>
<rect x="140.02" y="176.15" width="3" height="3" rx="0.6" fill="#fff" stroke="#1a8a90" stroke-width="1.1"/>
<rect x="142.76" y="178.6" width="3" height="3" rx="0.6" fill="#fff" stroke="#1a8a90" stroke-width="1.1"/>
<rect x="145.5" y="173.35" width="3" height="3" rx="0.6" fill="#fff" stroke="#1a8a90" stroke-width="1.1"/>
<rect x="148.24" y="177.2" width="3" height="3" rx="0.6" fill="#fff" stroke="#1a8a90" stroke-width="1.1"/>
<rect x="150.97" y="178.25" width="3" height="3" rx="0.6" fill="#fff" stroke="#1a8a90" stroke-width="1.1"/>
<rect x="153.71" y="175.8" width="3" height="3" rx="0.6" fill="#fff" stroke="#1a8a90" stroke-width="1.1"/>
<rect x="156.45" y="174.4" width="3" height="3" rx="0.6" fill="#fff" stroke="#1a8a90" stroke-width="1.1"/>
<rect x="159.18" y="177.9" width="3" height="3" rx="0.6" fill="#fff" stroke="#1a8a90" stroke-width="1.1"/>
<rect x="161.92" y="180" width="3" height="3" rx="0.6" fill="#fff" stroke="#1a8a90" stroke-width="1.1"/>
<rect x="164.66" y="178.6" width="3" height="3" rx="0.6" fill="#fff" stroke="#1a8a90" stroke-width="1.1"/>
<rect x="167.39" y="177.9" width="3" height="3" rx="0.6" fill="#fff" stroke="#1a8a90" stroke-width="1.1"/>
<rect x="172.87" y="182.1" width="3" height="3" rx="0.6" fill="#fff" stroke="#1a8a90" stroke-width="1.1"/>
<polyline points="75.84,91.9 84.05,146.15" stroke="#4d6570" stroke-width="0.9" fill="none"/>
<path d="M84.05 143.95L85.9 145.8L84.05 147.65L82.2 145.8Z" fill="#8a90a8" stroke="#2b2f4a" stroke-width="1.2" stroke-linejoin="round"/>
<path d="M84.05 146.75L85.9 148.6L84.05 150.45L82.2 148.6Z" fill="#8a90a8" stroke="#2b2f4a" stroke-width="1.2" stroke-linejoin="round"/>
<path d="M86.78 150.95L88.63 152.8L86.78 154.65L84.94 152.8Z" fill="#8a90a8" stroke="#2b2f4a" stroke-width="1.2" stroke-linejoin="round"/>
<path d="M86.78 153.75L88.63 155.6L86.78 157.45L84.94 155.6Z" fill="#8a90a8" stroke="#2b2f4a" stroke-width="1.2" stroke-linejoin="round"/>
<path d="M89.52 157.6L91.37 159.45L89.52 161.3L87.67 159.45Z" fill="#8a90a8" stroke="#2b2f4a" stroke-width="1.2" stroke-linejoin="round"/>
<path d="M89.52 160.05L91.37 161.9L89.52 163.75L87.67 161.9Z" fill="#8a90a8" stroke="#2b2f4a" stroke-width="1.2" stroke-linejoin="round"/>
<path d="M92.26 162.85L94.11 164.7L92.26 166.55L90.41 164.7Z" fill="#8a90a8" stroke="#2b2f4a" stroke-width="1.2" stroke-linejoin="round"/>
<path d="M92.26 164.95L94.11 166.8L92.26 168.65L90.41 166.8Z" fill="#8a90a8" stroke="#2b2f4a" stroke-width="1.2" stroke-linejoin="round"/>
<rect x="90.76" y="181.4" width="3" height="3" rx="0.6" fill="#fff" stroke="#2e6a90" stroke-width="1.1"/>
<path d="M73.1 86.55L74.95 88.4L73.1 90.25L71.25 88.4Z" fill="#56607a" stroke="#2b2f4a" stroke-width="1.2" stroke-linejoin="round"/>
<path d="M75.84 90.05L77.69 91.9L75.84 93.75L73.99 91.9Z" fill="#56607a" stroke="#2b2f4a" stroke-width="1.2" stroke-linejoin="round"/>
<path d="M103.6 225.6H111.5" stroke="#1e1e1e" stroke-width="0.6" opacity="0.8"/>
<g transform="translate(107.5 225.6) scale(0.82) translate(-107.5 -225.6)"><path d="M107.5 223.75L109.35 225.6L107.5 227.45L105.65 225.6Z" fill="#fff" stroke="#1e1e1e" stroke-width="1.2" stroke-linejoin="round"/></g>
<text x="115.6" y="227.8" font-size="6.48" fill="#444">BM-TCD + vehicle (n=7)</text>
<path d="M103.6 235.6H111.5" stroke="#1a8a90" stroke-width="0.6" opacity="0.8"/>
<g transform="translate(107.5 235.6) scale(0.82) translate(-107.5 -235.6)"><rect x="106" y="234.1" width="3" height="3" rx="0.6" fill="#fff" stroke="#1a8a90" stroke-width="1.1"/></g>
<text x="115.6" y="237.8" font-size="6.48" fill="#444">BM-TCD/spl + vehicle (n=8)</text>
<path d="M103.6 245.6H111.5" stroke="#de2f7e" stroke-width="0.6" opacity="0.8"/>
<g transform="translate(107.5 245.6) scale(0.82) translate(-107.5 -245.6)"><path d="M107.5 243.5L109.5 247L105.5 247Z" fill="#fbd3e4" stroke="#de2f7e" stroke-width="1.05" stroke-linejoin="round"/></g>
<text x="115.6" y="247.8" font-size="6.48" fill="#444">BM-TCD/spl + RR-1752 (n=8)</text>
<path d="M286.2 191.6H289.4M287.4 186.96H289.4M287.4 182.31H289.4M287.4 177.67H289.4M287.4 173.03H289.4M287.4 168.39H289.4M287.4 163.75H289.4M287.4 159.1H289.4M287.4 154.46H289.4M287.4 149.82H289.4M286.2 145.18H289.4M287.4 140.53H289.4M287.4 135.89H289.4M287.4 131.25H289.4M287.4 126.6H289.4M287.4 121.96H289.4M287.4 117.32H289.4M287.4 112.68H289.4M287.4 108.03H289.4M287.4 103.39H289.4M286.2 98.75H289.4M287.4 94.11H289.4M287.4 89.46H289.4" stroke="#000" stroke-width="1.0" fill="none"/>
<path d="M289.4 89V192.2" stroke="#000" stroke-width="1.3" fill="none"/>
<text x="285.6" y="100.75" font-size="5.4" font-weight="bold" stroke="#000" stroke-width="0.15" text-anchor="end">100</text>
<text x="285.6" y="147.18" font-size="5.4" font-weight="bold" stroke="#000" stroke-width="0.15" text-anchor="end">50</text>
<text x="285.6" y="193.6" font-size="5.4" font-weight="bold" stroke="#000" stroke-width="0.15" text-anchor="end">0</text>
<path d="M289.4 191.6v3.2M294.49 191.6v2.2M299.59 191.6v2.2M304.68 191.6v2.2M309.78 191.6v2.2M314.87 191.6v2.2M319.96 191.6v2.2M325.06 191.6v2.2M330.15 191.6v2.2M335.25 191.6v2.2M340.34 191.6v3.2M345.43 191.6v2.2M350.53 191.6v2.2M355.62 191.6v2.2M360.72 191.6v2.2M365.81 191.6v2.2M370.9 191.6v2.2M376 191.6v2.2M381.09 191.6v2.2M386.19 191.6v2.2M391.28 191.6v3.2M396.37 191.6v2.2M401.47 191.6v2.2M406.56 191.6v2.2M411.66 191.6v2.2M416.75 191.6v2.2M421.84 191.6v2.2M426.94 191.6v2.2M432.03 191.6v2.2M437.13 191.6v2.2M442.22 191.6v3.2" stroke="#000" stroke-width="1.0" fill="none"/>
<path d="M288.75 191.6H442.72" stroke="#000" stroke-width="1.3" fill="none"/>
<text x="289.4" y="201.4" font-size="5.5" font-weight="bold" stroke="#000" stroke-width="0.15" text-anchor="middle">0</text>
<text x="340.34" y="201.4" font-size="5.5" font-weight="bold" stroke="#000" stroke-width="0.15" text-anchor="middle">20</text>
<text x="391.28" y="201.4" font-size="5.5" font-weight="bold" stroke="#000" stroke-width="0.15" text-anchor="middle">40</text>
<text x="442.22" y="201.4" font-size="5.5" font-weight="bold" stroke="#000" stroke-width="0.15" text-anchor="middle">60</text>
<text x="365.6" y="210.6" font-size="6.28" font-weight="bold" text-anchor="middle">Day post inoculation</text>
<text transform="translate(270.6 139.4) rotate(-90)" font-size="7" text-anchor="middle" fill="#222">Probability of Survival</text>
<path d="M312.32 98.75H312.32V121.96H317.42V145.18H345.43V156.78H376V168.39H383.64V179.99H388.73V191.6H388.73" stroke="#4f9296" stroke-width="1.15" fill="none"/>
<path d="M325.06 98.75H325.06V110.36H340.34V121.96H350.53V133.57H373.45V145.18H398.92V168.39H416.75V179.99H432.8" stroke="#cf5088" stroke-width="1.15" fill="none"/>
<path d="M289.4 98.75H427.7V112.01H432.54v-1.3" stroke="#474747" stroke-width="1.1" fill="none"/>
<path d="M299.3 221H308.2M303.7 219.6V221" stroke="#474747" stroke-width="1.0"/>
<text x="312.3" y="222.8" font-size="6.42" fill="#444">BM-TCD + vehicle (n=7)</text>
<path d="M299.3 231.6H308.2M303.7 230.2V231.6" stroke="#4f9296" stroke-width="1.0"/>
<text x="312.3" y="233.4" font-size="6.42" fill="#444">BM-TCD/spl + vehicle (n=8)</text>
<path d="M299.3 242.2H308.2M303.7 240.8V242.2" stroke="#cf5088" stroke-width="1.0"/>
<text x="312.3" y="243.9" font-size="6.42" fill="#444">BM-TCD/spl + RR-1752 (n=8)</text>
<path d="M398.8 228.4H403.5V243H398.8" stroke="#111" stroke-width="1.2" fill="none"/>
<text x="405.6" y="232.3" font-size="5.6" fill="#222">p=0.001</text>
<circle cx="408.1" cy="237" r="1.25" fill="#111"/>
<circle cx="412.7" cy="237" r="1.25" fill="#111"/>
<circle cx="417.3" cy="237" r="1.25" fill="#111"/>
<text x="405.6" y="243.8" font-size="5" fill="#222">Log-rank</text>
<text x="406.2" y="250.6" font-size="5.05" fill="#222">(Mantel-Cox) test</text>
</g>
</svg>
</body></html>
